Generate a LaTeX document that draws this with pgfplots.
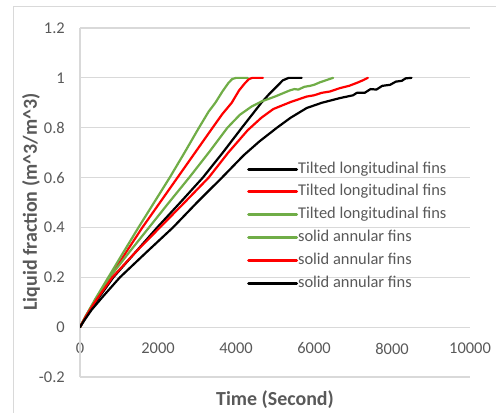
\documentclass[border=0pt]{standalone}
\usepackage{fontspec}
\setmainfont{Carlito}
\usepackage{pgfplots}
\pgfplotsset{compat=1.18}
\usepackage{pgfplotstable}

\definecolor{txtgray}{HTML}{595959}
\definecolor{gridgray}{HTML}{D9D9D9}
\definecolor{exgreen}{HTML}{70AD47}
\definecolor{exred}{HTML}{FF0000}

% Tilted longitudinal fins
\pgfplotstableread{
t f
0 0
150 0.04
400 0.1
855 0.2
1420 0.3
1980 0.4
2570 0.5
3150 0.6
3660 0.7
4150 0.8
4650 0.9
4850 0.935
5043 0.965
5200 0.99
5350 1.0
5684 1.0
}\tiltblack
\pgfplotstableread{
t f
0 0
150 0.043
400 0.11
770 0.2
1180 0.3
1600 0.4
2050 0.5
2500 0.6
2950 0.7
3400 0.8
3650 0.855
3890 0.9
4080 0.95
4231 0.979
4330 0.995
4420 1.0
4690 1.0
}\tiltred
\pgfplotstableread{
t f
0 0
150 0.045
400 0.115
727 0.2
1100 0.297
1500 0.4
1900 0.5
2300 0.6
2680 0.7
3050 0.8
3300 0.865
3470 0.9
3650 0.945
3803 0.979
3900 0.995
4000 1.0
4300 1.0
}\tiltgreen
% Solid annular fins
\pgfplotstableread{
t f
0 0
150 0.045
400 0.112
760 0.2
1260 0.3
1770 0.4
2280 0.5
2800 0.6
3300 0.7
3780 0.8
4100 0.852
4400 0.885
4650 0.905
5000 0.925
5385 0.95
5500 0.955
5600 0.953
5750 0.964
5900 0.968
6000 0.972
6150 0.982
6300 0.99
6490 1.0
}\solidgreen
\pgfplotstableread{
t f
0 0
150 0.043
400 0.105
830 0.2
1420 0.3
2050 0.4
2680 0.5
3300 0.6
3800 0.7
4300 0.79
4650 0.84
4957 0.875
5400 0.903
5812 0.925
6000 0.93
6200 0.94
6400 0.945
6667 0.959
6900 0.968
7100 0.98
7250 0.99
7380 1.0
}\solidred
\pgfplotstableread{
t f
0 0
100 0.025
300 0.07
600 0.125
1025 0.2
1700 0.3
2385 0.4
3000 0.5
3641 0.6
4200 0.69
4600 0.745
5050 0.8
5400 0.84
5812 0.879
6200 0.9
6667 0.919
7000 0.93
7100 0.94
7300 0.94
7450 0.955
7600 0.953
7750 0.968
7950 0.972
8100 0.985
8250 0.988
8350 0.998
8500 1.0
}\solidblack

\begin{document}
\begin{tikzpicture}[x=1bp,y=1bp]
\useasboundingbox (0,0) rectangle (496,412);
% chart area frame
\draw[gridgray, line width=1bp] (13,-2) -- (13,405) -- (498,405);
\begin{axis}[
  at={(80bp,35bp)}, anchor=south west,
  scale only axis, width=390bp, height=349bp,
  xmin=0, xmax=10000, ymin=-0.2, ymax=1.2,
  axis line style={draw=none},
  major tick length=0pt,
  scaled x ticks=false, scaled y ticks=false,
  ymajorgrids, grid style={draw=gridgray, line width=1.2bp},
  extra x ticks={0}, extra x tick labels={},
  extra x tick style={xmajorgrids=true, grid style={draw=gridgray, line width=1.2bp}},
  xtick={0,2000,4000,6000,8000,10000},
  xticklabels={0,2000,4000,6000,8000,10000},
  ytick={-0.2,0,0.2,0.4,0.6,0.8,1,1.2},
  yticklabels={-0.2,0,0.2,0.4,0.6,0.8,1,1.2},
  /pgf/number format/assume math mode=true,
  ticklabel style={font=\fontsize{16.5}{19}\selectfont, text=txtgray, inner sep=0pt},
  xticklabel style={anchor=north, yshift=34.4bp},
  yticklabel style={anchor=east, xshift=-15bp},
  legend cell align=left,
  legend style={at={(rel axis cs:0.428,0.619)}, anchor=north west,
    draw=none, fill=none, inner sep=0pt, row sep=6.8bp,
    font=\fontsize{16.5}{19}\selectfont, text=txtgray,
    nodes={inner sep=0pt, text height=12bp, text depth=4bp},
    /tikz/every even column/.append style={column sep=6bp}},
  legend image code/.code={\draw[#1, line width=3bp] (0bp,0bp) -- (48bp,0bp);},
  every axis plot/.append style={line width=2.2bp, line join=round, line cap=round},
]
\addplot[black] table[x=t, y=f] {\tiltblack};
\addlegendentry{Tilted longitudinal fins}
\addplot[exred] table[x=t, y=f] {\tiltred};
\addlegendentry{Tilted longitudinal fins}
\addplot[exgreen] table[x=t, y=f] {\tiltgreen};
\addlegendentry{Tilted longitudinal fins}
\addplot[exgreen] table[x=t, y=f] {\solidgreen};
\addlegendentry{solid annular fins}
\addplot[exred] table[x=t, y=f] {\solidred};
\addlegendentry{solid annular fins}
\addplot[black] table[x=t, y=f] {\solidblack};
\addlegendentry{solid annular fins}
\end{axis}
\node[text=txtgray, font=\fontsize{20}{24}\selectfont\bfseries] at (275,12) {Time (Second)};
\node[text=txtgray, font=\fontsize{20}{24}\selectfont\bfseries, rotate=90] at (31,210) {Liquid fraction (m\^{}3/m\^{}3)};
\end{tikzpicture}
\end{document}
